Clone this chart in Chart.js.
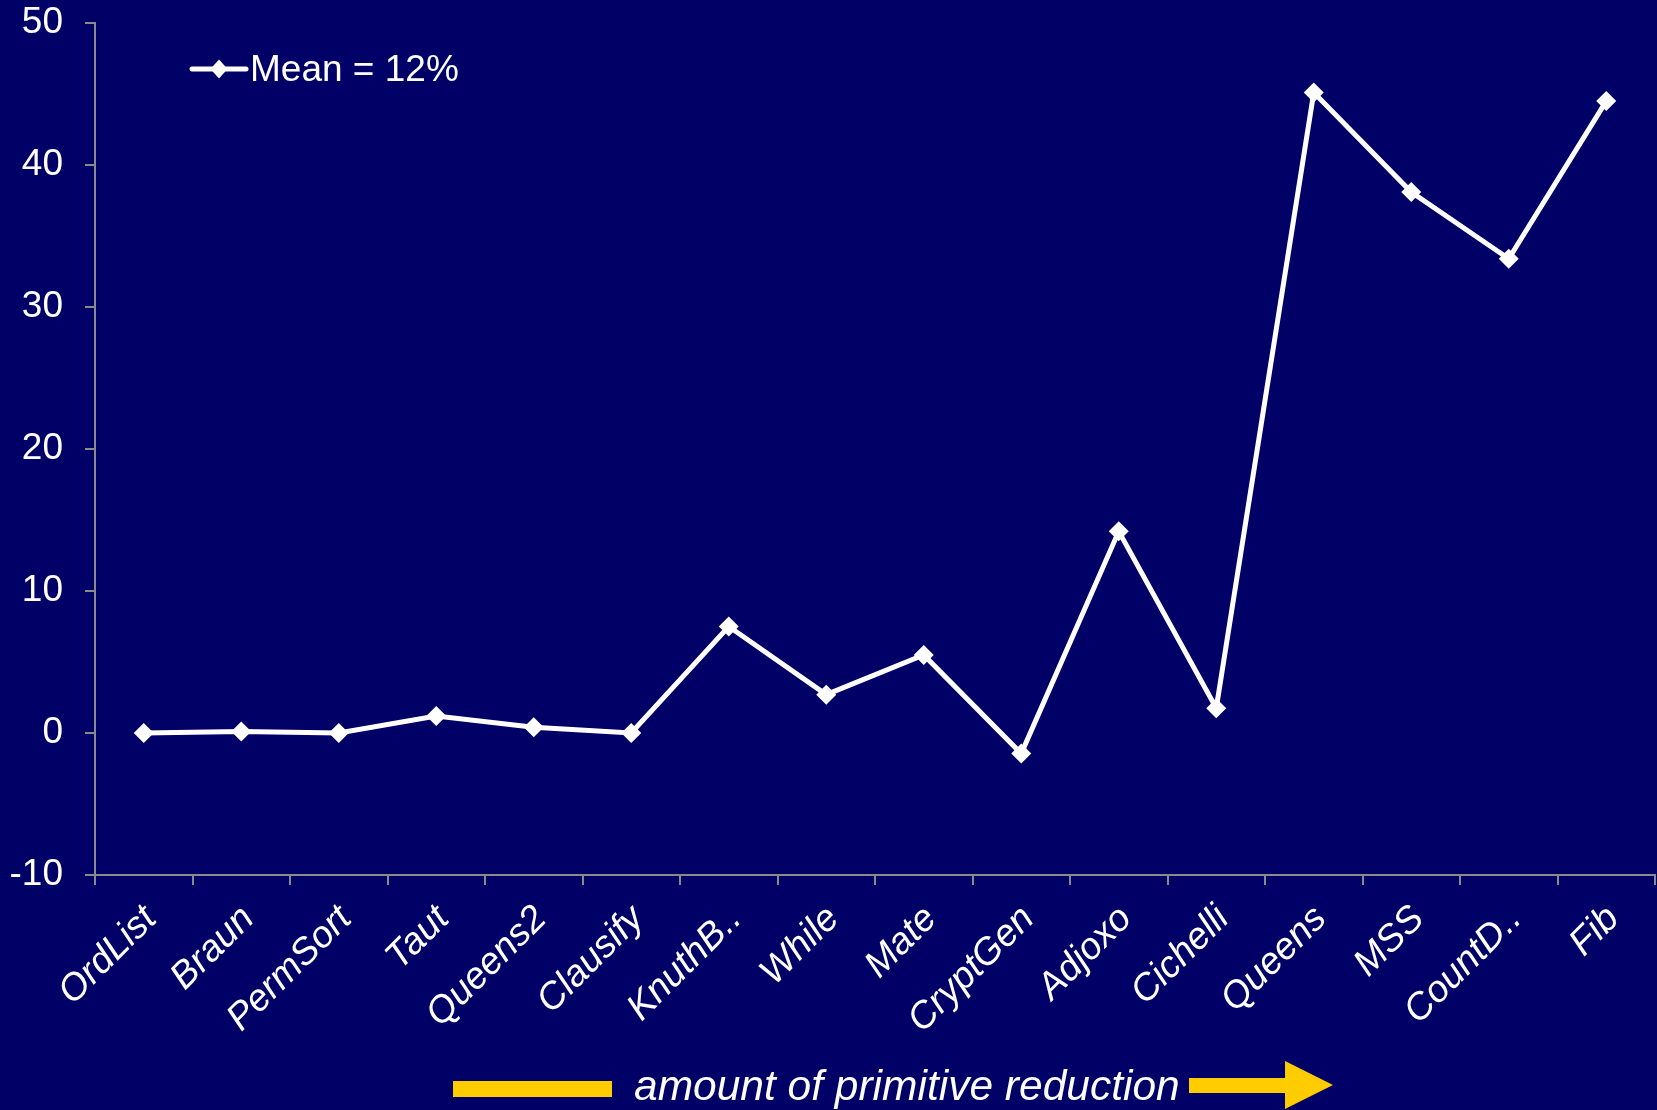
<!DOCTYPE html>
<html>
<head>
<meta charset="utf-8">
<title>Primitive reduction</title>
<script src="https://cdn.jsdelivr.net/npm/chart.js@4.4.1/dist/chart.umd.min.js"></script>
<style>
  html, body { margin: 0; padding: 0; background: #000066; }
  #chart { display: block; }
</style>
</head>
<body>
<canvas id="chart" width="1657" height="1110"></canvas>
<script>
const programs = [
  "OrdList", "Braun", "PermSort", "Taut", "Queens2", "Clausify", "KnuthB..",
  "While", "Mate", "CryptGen", "Adjoxo", "Cichelli", "Queens", "MSS", "CountD..", "Fib",
];
const reduction = [
  0.0, 0.1, 0.0, 1.2, 0.4, 0.0, 7.5,
  2.7, 5.5, -1.45, 14.2, 1.75, 45.1, 38.1, 33.4, 44.5,
];
const seriesName = "Mean = 12%";
const footerText = "amount of primitive reduction";

const BG = "#000066";
const AXIS = "#8a8a8a";
const YELLOW = "#ffcc00";
const FONT = "'Liberation Sans', Arial, sans-serif";

// paints the navy background behind everything
const background = {
  id: "background",
  beforeDraw(chart) {
    const ctx = chart.ctx;
    ctx.save();
    ctx.fillStyle = BG;
    ctx.fillRect(0, 0, chart.width, chart.height);
    ctx.restore();
  },
};

function diamond(ctx, x, y, r) {
  ctx.beginPath();
  ctx.moveTo(x, y - r);
  ctx.lineTo(x + r * 0.9, y);
  ctx.lineTo(x, y + r);
  ctx.lineTo(x - r * 0.9, y);
  ctx.closePath();
  ctx.fill();
}

// line+marker legend in the top-left corner and the yellow arrow caption underneath
const decorations = {
  id: "decorations",
  afterDraw(chart) {
    const ctx = chart.ctx;
    ctx.save();

    // legend
    ctx.strokeStyle = "#ffffff";
    ctx.fillStyle = "#ffffff";
    ctx.lineWidth = 5;
    ctx.lineCap = "round";
    ctx.beginPath();
    ctx.moveTo(192, 69);
    ctx.lineTo(246, 69);
    ctx.stroke();
    diamond(ctx, 219, 69, 9.5);
    ctx.font = "37px " + FONT;
    ctx.textBaseline = "middle";
    ctx.textAlign = "left";
    ctx.fillText(chart.data.datasets[0].label, 250, 71);

    // footer: bar, caption, arrow
    ctx.fillStyle = YELLOW;
    ctx.fillRect(453, 1081, 159, 16);
    ctx.beginPath();
    ctx.moveTo(1189, 1078);
    ctx.lineTo(1285, 1078);
    ctx.lineTo(1285, 1061);
    ctx.lineTo(1333, 1085);
    ctx.lineTo(1285, 1109);
    ctx.lineTo(1285, 1093);
    ctx.lineTo(1189, 1093);
    ctx.closePath();
    ctx.fill();

    ctx.fillStyle = "#ffffff";
    ctx.font = "italic 42.5px " + FONT;
    ctx.textBaseline = "alphabetic";
    ctx.fillText(footerText, 634, 1100);

    ctx.restore();
  },
};

new Chart(document.getElementById("chart").getContext("2d"), {
  type: "line",
  data: {
    labels: programs,
    datasets: [
      {
        label: seriesName,
        data: reduction,
        borderColor: "#ffffff",
        backgroundColor: "#ffffff",
        borderWidth: 5,
        tension: 0,
        pointStyle: "rectRot",
        pointRadius: 10,
        pointBorderWidth: 0,
        pointBackgroundColor: "#ffffff",
      },
    ],
  },
  options: {
    responsive: false,
    animation: false,
    layout: { autoPadding: false, padding: { top: 23, right: 2, bottom: 40, left: 0 } },
    plugins: {
      legend: { display: false },
      tooltip: { enabled: false },
    },
    scales: {
      x: {
        offset: true,
        grid: {
          offset: true,
          drawOnChartArea: false,
          drawTicks: true,
          tickLength: 10,
          color: AXIS,
          lineWidth: 2,
        },
        border: { color: AXIS, width: 2 },
        ticks: {
          color: "#ffffff",
          autoSkip: false,
          minRotation: 45,
          maxRotation: 45,
          padding: 12,
          labelOffset: 7,
          font: { family: FONT, size: 37.5, style: "italic" },
        },
        afterFit(scale) {
          scale.height = 195;
          scale.paddingTop = 0;
          scale.paddingBottom = 0;
          scale.paddingRight = 0;
        },
      },
      y: {
        min: -10,
        max: 50,
        grid: {
          drawOnChartArea: false,
          drawTicks: true,
          tickLength: 10,
          color: AXIS,
          lineWidth: 2,
        },
        border: { color: AXIS, width: 2 },
        ticks: {
          stepSize: 10,
          color: "#ffffff",
          padding: 22,
          font: { family: FONT, size: 37 },
        },
        afterFit(scale) {
          scale.width = 95;
          scale.paddingTop = 0;
          scale.paddingBottom = 0;
        },
      },
    },
  },
  plugins: [background, decorations],
});
</script>
</body>
</html>
